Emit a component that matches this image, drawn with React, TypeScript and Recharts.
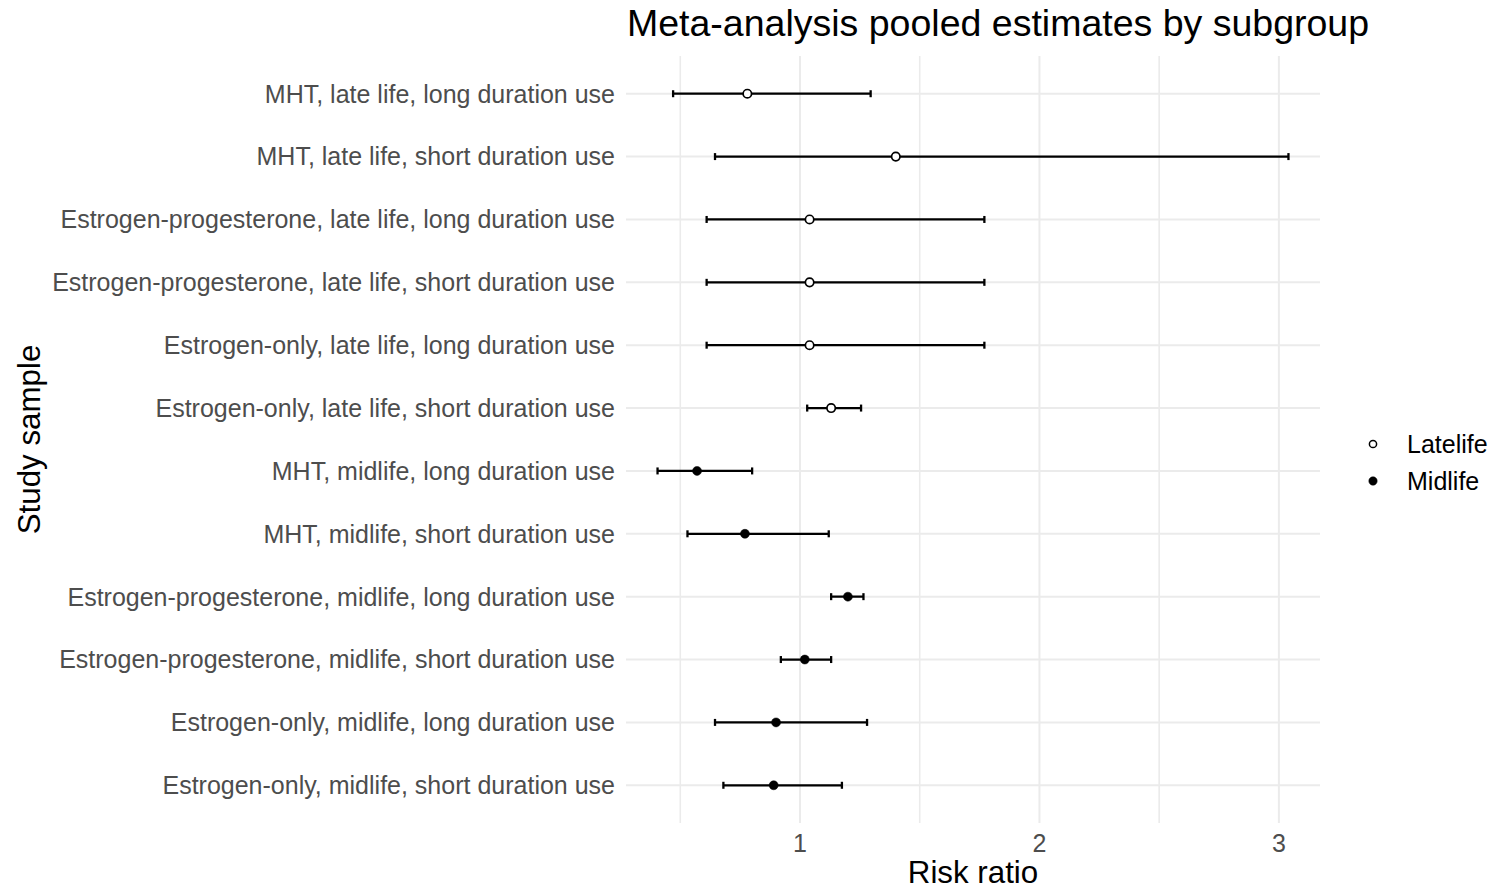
import React from 'react';
import {
  ScatterChart,
  Scatter,
  XAxis,
  YAxis,
  ErrorBar,
  ReferenceLine,
  Legend,
} from 'recharts';

const categories = [
  'MHT, late life, long duration use',
  'MHT, late life, short duration use',
  'Estrogen-progesterone, late life, long duration use',
  'Estrogen-progesterone, late life, short duration use',
  'Estrogen-only, late life, long duration use',
  'Estrogen-only, late life, short duration use',
  'MHT, midlife, long duration use',
  'MHT, midlife, short duration use',
  'Estrogen-progesterone, midlife, long duration use',
  'Estrogen-progesterone, midlife, short duration use',
  'Estrogen-only, midlife, long duration use',
  'Estrogen-only, midlife, short duration use',
];

const estimates = [0.78, 1.4, 1.04, 1.04, 1.04, 1.13, 0.57, 0.77, 1.2, 1.02, 0.9, 0.89];
const lower = [0.47, 0.645, 0.61, 0.61, 0.61, 1.03, 0.405, 0.53, 1.13, 0.92, 0.645, 0.68];
const upper = [1.295, 3.04, 1.77, 1.77, 1.77, 1.255, 0.8, 1.12, 1.265, 1.13, 1.28, 1.175];
const groups = [
  'Latelife', 'Latelife', 'Latelife', 'Latelife', 'Latelife', 'Latelife',
  'Midlife', 'Midlife', 'Midlife', 'Midlife', 'Midlife', 'Midlife',
];
const groupNames = ['Latelife', 'Midlife'];
const xTicks = [1, 2, 3];
const xMinorTicks = [0.5, 1.5, 2.5];

const rows = categories.map((c, i) => ({
  category: c,
  pos: categories.length - i,
  est: estimates[i],
  err: [estimates[i] - lower[i], upper[i] - estimates[i]],
  group: groups[i],
}));

const yTicks = rows.map((r) => r.pos);

const dataMin = Math.min(...lower);
const dataMax = Math.max(...upper);
const span = dataMax - dataMin;
const xDomain = [dataMin - span * 0.05, dataMax + span * 0.05];
const yDomain = [0.4, categories.length + 0.6];

const FONT = '"Liberation Sans", Arial, Helvetica, sans-serif';
const GRID = '#ebebeb';

const groupFill: Record<string, string> = { Latelife: '#ffffff', Midlife: '#000000' };

const OpenDot = (props: any) => (
  <circle cx={props.cx} cy={props.cy} r={4.2} fill="#ffffff" stroke="#000000" strokeWidth={1.7} />
);
const FilledDot = (props: any) => (
  <circle cx={props.cx} cy={props.cy} r={4.5} fill="#000000" stroke="#000000" strokeWidth={0.5} />
);

const LegendContent = (props: any) => {
  const payload = props.payload || [];
  return (
    <div style={{ fontFamily: FONT }}>
      {payload.map((p: any) => (
        <div
          key={p.value}
          style={{ display: 'flex', alignItems: 'center', height: 37 }}
        >
          <svg width={16} height={16} style={{ display: 'block' }}>
            {p.value === 'Latelife' ? (
              <circle cx={8} cy={8} r={3.6} fill="#fff" stroke="#000" strokeWidth={1.5} />
            ) : (
              <circle cx={8} cy={8} r={4.2} fill="#000" stroke="#000" strokeWidth={0.5} />
            )}
          </svg>
          <span style={{ marginLeft: 26, fontSize: 25, color: '#000', lineHeight: '37px' }}>
            {p.value}
          </span>
        </div>
      ))}
    </div>
  );
};

export default function App() {
  return (
    <div
      style={{
        position: 'absolute',
        left: 0,
        top: 0,
        width: 1491,
        height: 888,
        background: '#ffffff',
        fontFamily: FONT,
      }}
    >
      <div
        style={{
          position: 'absolute',
          left: 627,
          top: 5,
          fontSize: 37.5,
          lineHeight: 1,
          color: '#000',
          whiteSpace: 'nowrap',
        }}
      >
        Meta-analysis pooled estimates by subgroup
      </div>
      <ScatterChart
        width={1491}
        height={888}
        margin={{ top: 56, right: 171, bottom: 0, left: 0 }}
        style={{ position: 'absolute', left: 0, top: 0 }}
      >
        {yTicks.map((v) => (
          <ReferenceLine key={'h' + v} y={v} stroke={GRID} strokeWidth={2} />
        ))}
        {xMinorTicks.map((v) => (
          <ReferenceLine key={'m' + v} x={v} stroke={GRID} strokeWidth={1.6} />
        ))}
        {xTicks.map((v) => (
          <ReferenceLine key={'v' + v} x={v} stroke={GRID} strokeWidth={2} />
        ))}
        <XAxis
          type="number"
          dataKey="est"
          domain={xDomain}
          allowDataOverflow
          ticks={xTicks}
          interval={0}
          axisLine={false}
          tickLine={false}
          tickSize={0}
          tickMargin={11}
          height={65}
          tick={{ fill: '#4d4d4d', fontSize: 25 }}
          label={{
            value: 'Risk ratio',
            position: 'insideBottom',
            offset: 5,
            fill: '#000',
            fontSize: 31.3,
          }}
        />
        <YAxis
          type="number"
          dataKey="pos"
          domain={yDomain}
          allowDataOverflow
          ticks={yTicks}
          interval={0}
          tickFormatter={(v: number) => categories[categories.length - v]}
          axisLine={false}
          tickLine={false}
          tickSize={0}
          tickMargin={11}
          width={626}
          tick={{ fill: '#4d4d4d', fontSize: 25 }}
          label={{
            value: 'Study sample',
            angle: -90,
            position: 'insideLeft',
            offset: 29,
            fill: '#000',
            fontSize: 31.3,
            style: { textAnchor: 'middle' },
          }}
        />
        <Legend
          layout="vertical"
          align="center"
          verticalAlign="middle"
          wrapperStyle={{ left: 1365, top: 425.5, width: 'auto', height: 'auto' }}
          content={<LegendContent />}
        />
        {groupNames.map((g) => (
          <Scatter
            key={g}
            name={g}
            data={rows.filter((r) => r.group === g)}
            fill={groupFill[g]}
            stroke="#000"
            shape={g === 'Latelife' ? <OpenDot /> : <FilledDot />}
            isAnimationActive={false}
          >
            <ErrorBar
              dataKey="err"
              direction="x"
              width={3.5}
              stroke="#000"
              strokeWidth={2.3}
              isAnimationActive={false}
            />
          </Scatter>
        ))}
      </ScatterChart>
    </div>
  );
}
